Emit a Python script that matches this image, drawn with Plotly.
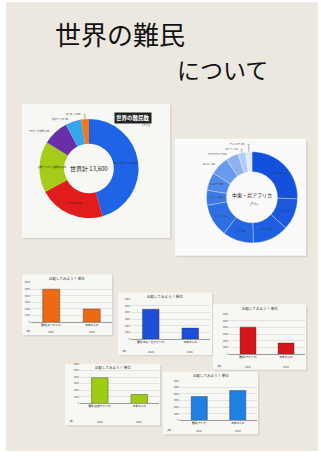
import plotly.graph_objects as go

W, H = 321, 457

# ---- datos ----
titulo_1 = "世界の難民"
titulo_2 = "について"

regiones = ["中東・北アフリカ", "アフリカ", "東部アフリカ・大湖地域", "アジア・太平洋", "南北アメリカ", "ヨーロッパ"]
refugiados = [6200, 2950, 2250, 1150, 700, 350]
colores_mundo = ["#1f63e6", "#e01c1c", "#a4cc18", "#6a2fa8", "#36a6ec", "#f07818"]

paises_me = ["シリア", "イラク", "イエメン", "リビア", "スーダン", "レバノン", "パレスチナ", "ヨルダン", "サウジアラビア", "エジプト", "チュニジア"]
refugiados_me = [1600, 700, 800, 690, 730, 330, 400, 420, 280, 170, 140]
colores_me = ["#1350dc", "#1a58de", "#1d5fe0", "#2466e2", "#2e6fe4", "#3b7ae6",
              "#5088ea", "#6a9aee", "#8cb2f2", "#b3cdf6", "#dfe9fa"]

comparaciones = [
    ("比較してみよう！ 単位", ["難民(ヨーロッパ)", "日本の人口"], [5000, 2000], "#ee6a12"),
    ("比較してみよう！ 単位", ["難民(中東・北アフリカ)", "日本の人口"], [4500, 1650], "#1b4fd8"),
    ("比較してみよう！ 単位", ["難民(アフリカ)", "日本の人口"], [4050, 1650], "#d4181a"),
    ("比較してみよう！ 単位", ["難民(東部アフリカ)", "日本の人口"], [3900, 1350], "#9dcc12"),
    ("比較してみよう！ 単位", ["難民(アジア)", "日本の人口"], [3600, 4500], "#1e80e2"),
]
anio = "2015"

FUENTE = "Noto Sans CJK JP"


def fx(px):
    return px / W


def fy(py):
    return 1 - py / H


fig = go.Figure()
formas = []
notas = []


def nota(x, y, texto, size, color="#222", **kw):
    notas.append(dict(x=fx(x), y=fy(y), xref="paper", yref="paper", text=texto, showarrow=False,
                      xanchor="center", yanchor="middle",
                      font=dict(size=size, color=color, family=FUENTE), **kw))


def hoja(x0, y0, x1, y1, color="#f7f7f4"):
    formas.append(dict(type="rect", xref="paper", yref="paper",
                       x0=fx(x0 + 1.5), x1=fx(x1 + 1.5), y0=fy(y1 + 1.5), y1=fy(y0 + 1.5),
                       fillcolor="#d8d4cc", line=dict(width=0), layer="below"))
    formas.append(dict(type="rect", xref="paper", yref="paper",
                       x0=fx(x0), x1=fx(x1), y0=fy(y1), y1=fy(y0),
                       fillcolor=color, line=dict(width=0), layer="below"))


# fondo de la foto
formas.append(dict(type="rect", xref="paper", yref="paper", x0=fx(6), x1=fx(318), y0=fy(453), y1=fy(0),
                   fillcolor="#ece8e0", line=dict(width=0), layer="below"))

# ---- hojas con los circulos ----
hoja(22, 103, 170, 238)
hoja(175, 138, 306, 256, "#fafafa")

fig.add_trace(go.Pie(
    labels=regiones, values=refugiados, hole=0.5, sort=False, direction="clockwise",
    rotation=0, marker=dict(colors=colores_mundo, line=dict(width=0)),
    text=[f"{r} {v:,}" for r, v in zip(regiones, refugiados)], textinfo="text",
    textposition=["inside", "inside", "inside", "outside", "outside", "outside"],
    textfont=dict(size=3, color="#222", family=FUENTE),
    insidetextorientation="horizontal",
    domain=dict(x=[fx(39), fx(139)], y=[fy(218), fy(118)]), showlegend=False,
))

fig.add_trace(go.Pie(
    labels=paises_me, values=refugiados_me, hole=0.56, sort=False, direction="clockwise",
    rotation=0, marker=dict(colors=colores_me, line=dict(width=0.3, color="#ffffff")),
    text=[f"{p} {v:,}" for p, v in zip(paises_me, refugiados_me)], textinfo="text",
    textposition=["inside"] * 7 + ["outside"] * 4,
    textfont=dict(size=3, color="#333", family=FUENTE),
    insidetextorientation="horizontal",
    domain=dict(x=[fx(206), fx(298)], y=[fy(243), fy(151)]), showlegend=False,
))

nota(89, 168, f"世界計 {sum(refugiados):,}", 6)
nota(133, 117, "<b>世界の難民数</b>", 5.5, "#fff", bgcolor="#222", borderpad=1)
nota(146, 124, "(千人)", 3, "#444")
nota(252, 195, "中東・北アフリカ", 5)
nota(254, 203, "(千人)", 3, "#444")

# ---- graficos de barras ----
hojas_barras = [(22, 275, 112, 336), (118, 293, 212, 356), (213, 305, 306, 371),
                (65, 365, 160, 427), (163, 373, 258, 436)]
areas = [(31, 283, 112, 323), (131, 300, 210, 340), (229, 315, 305, 355),
         (80, 365, 159, 405), (180, 382, 257, 422)]

for i, ((tit, cats, vals, col), hb, ar) in enumerate(zip(comparaciones, hojas_barras, areas), start=2):
    hoja(*hb)
    x0, y0, x1, y1 = ar
    fig.add_trace(go.Bar(x=cats, y=vals, marker=dict(color=col, line=dict(width=0.4, color="#333")),
                         width=0.42, xaxis=f"x{i}", yaxis=f"y{i}", showlegend=False))
    fig.update_layout({
        f"xaxis{i}": dict(domain=[fx(x0), fx(x1)], anchor=f"y{i}", showgrid=False,
                          showline=True, linecolor="#999", linewidth=0.5,
                          tickfont=dict(size=2.6, color="#222", family=FUENTE), ticks=""),
        f"yaxis{i}": dict(domain=[fy(y1), fy(y0)], anchor=f"x{i}", range=[0, 6000], dtick=1000,
                          showgrid=True, gridcolor="#e2e2e2", gridwidth=0.5, zeroline=False,
                          tickfont=dict(size=2.4, color="#555"), ticks=""),
    })
    nota((hb[0] + hb[2]) / 2, hb[1] + 4, tit, 3.5, "#333")
    nota(hb[0] + 6, hb[3] - 4, "(年)", 2.6, "#444")
    for k in range(2):
        nota(x0 + (x1 - x0) * (0.25 + 0.5 * k), hb[3] - 3, anio, 2.6, "#444")

# ---- titulo ----
nota(120, 32, titulo_1, 26, "#111")
nota(222, 68, titulo_2, 23, "#111")

fig.update_layout(
    width=W, height=H, margin=dict(l=0, r=0, t=0, b=0),
    paper_bgcolor="#ffffff", plot_bgcolor="rgba(0,0,0,0)",
    font=dict(family=FUENTE), shapes=formas, annotations=notas,
    bargap=0.5, uniformtext=dict(minsize=2, mode="show"),
)

fig.write_html("out.html", config=dict(displayModeBar=False),
               post_script="document.body.style.margin='0';")
